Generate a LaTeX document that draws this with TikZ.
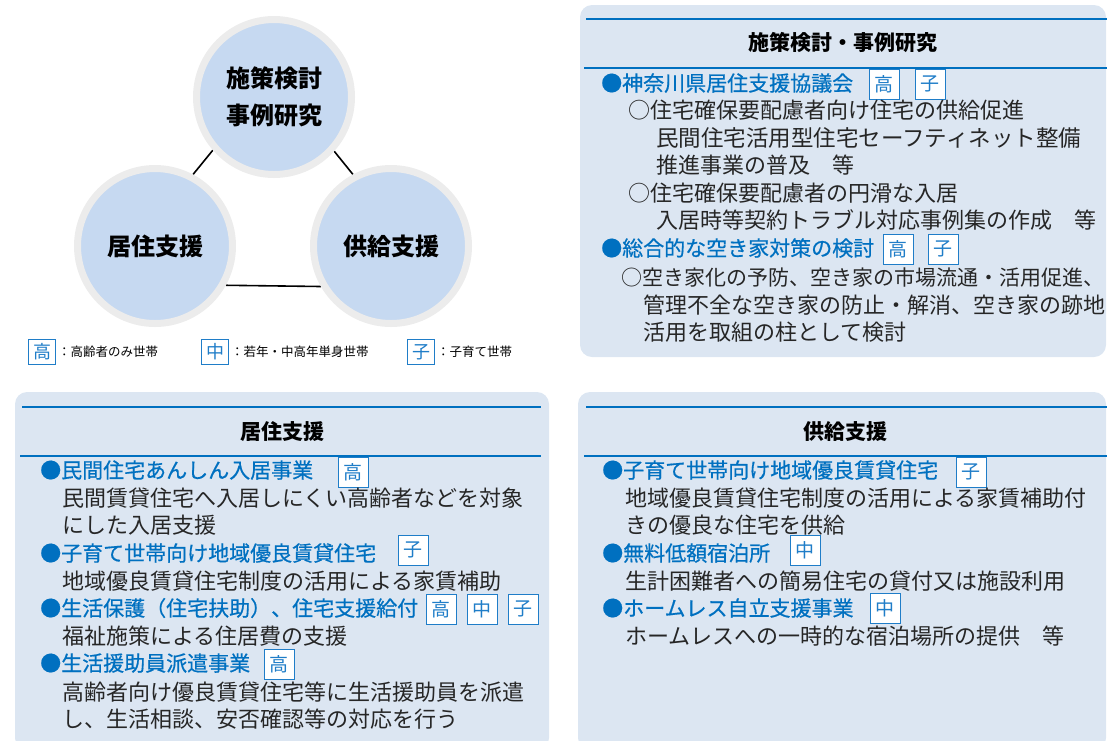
\documentclass[tikz,border=0pt]{standalone}
\usepackage{fontspec}
\setmainfont{Noto Sans CJK JP}
\newfontfamily\jpmedium[FakeBold=0.6]{Noto Sans CJK JP}
\usetikzlibrary{positioning,shadows,backgrounds}
\definecolor{panelfill}{RGB}{220,230,242}
\definecolor{circlefill}{RGB}{198,217,241}
\definecolor{ringgray}{RGB}{236,236,236}
\definecolor{lineblue}{RGB}{0,112,192}
\definecolor{tagblue}{RGB}{31,125,200}
\begin{document}
\begin{tikzpicture}[x=1pt, y=-1pt,
  topic/.style={circle, draw=ringgray, line width=7pt, fill=circlefill, minimum size=155pt, align=center, font=\fontsize{24}{37}\selectfont\bfseries, drop shadow={opacity=0.3, shadow xshift=2pt, shadow yshift=-2pt}},
  link/.style={line width=1.6pt},
  panel/.style={fill=panelfill, rounded corners=12pt},
  blueline/.style={draw=lineblue, line width=1.6pt},
  heading/.style={font=\fontsize{21}{21}\selectfont\bfseries},
  itemhead/.style={anchor=west, inner sep=0pt, text height=17pt, text depth=1pt, text=lineblue, font=\fontsize{21}{21}\selectfont\jpmedium},
  itembody/.style={anchor=west, inner sep=0pt, text height=18pt, text depth=1.2pt, text=black!85, font=\fontsize{22}{22}\selectfont},
  tag/.style={draw=tagblue, fill=white, line width=0.8pt, minimum width=30pt, minimum height=30pt, inner sep=0pt, text=tagblue, font=\fontsize{19}{19}\selectfont},
  legtag/.style={tag, minimum width=27pt, minimum height=25pt, font=\fontsize{18}{18}\selectfont},
  legtext/.style={anchor=west, inner sep=0pt, font=\fontsize{12.5}{12.5}\selectfont}
]
  \useasboundingbox (0,0) rectangle (1107,740);
  \clip (0,0) rectangle (1107,740);

  % Three topics
  \node[topic] (study) at (274,97) {施策検討\\事例研究};
  \node[topic] (living) at (155,246) {居住支援};
  \node[topic] (supply) at (391,246) {供給支援};

  \begin{scope}[on background layer]
    \draw[link] (study.221) -- (living.62);
    \draw[link] (study.-42) -- (supply.118);
    \draw[link] (living.-29) -- (supply.210);
  \end{scope}

  % Legend
  \node[legtag] (legold) at (42,352) {高};
  \node[legtext, right=2pt of legold] (legoldtext) {：高齢者のみ世帯};
  \node[legtag] (legmid) at (215,352) {中};
  \node[legtext, right=2pt of legmid] (legmidtext) {：若年・中高年単身世帯};
  \node[legtag] (legchild) at (421,352) {子};
  \node[legtext, right=2pt of legchild] (legchildtext) {：子育て世帯};

  % Panel: study
  \fill[panel] (580,5) rectangle (1106,357);
  \draw[blueline] (586,19) -- (1107,19);
  \draw[blueline] (584,68) -- (1107,68);
  \node[heading] (studyhead) at (843,43) {施策検討・事例研究};
  \node[itemhead] (council) at (601,83) {●神奈川県居住支援協議会};
  \node[tag] (councilold) at (884,84) {高};
  \node[tag] (councilchild) at (930,84) {子};
  \node[itembody] (councila) at (628,110) {○住宅確保要配慮者向け住宅の供給促進};
  \node[itembody, font=\fontsize{22.5}{22.5}\selectfont] (councilb) at (656,138) {民間住宅活用型住宅セーフティネット整備};
  \node[itembody] (councilc) at (656,165) {推進事業の普及　等};
  \node[itembody] (councild) at (628,193) {○住宅確保要配慮者の円滑な入居};
  \node[itembody] (councile) at (656,220) {入居時等契約トラブル対応事例集の作成　等};
  \node[itemhead] (vacant) at (601,248) {●総合的な空き家対策の検討};
  \node[tag] (vacantold) at (898,249) {高};
  \node[tag] (vacantchild) at (943,249) {子};
  \node[itembody, font=\fontsize{21}{21}\selectfont] (vacanta) at (621,277) {○空き家化の予防、空き家の市場流通・活用促進、};
  \node[itembody] (vacantb) at (643,305) {管理不全な空き家の防止・解消、空き家の跡地};
  \node[itembody] (vacantc) at (643,332) {活用を取組の柱として検討};

  % Panel: living
  \fill[panel] (15,392) rectangle (549,750);
  \draw[blueline] (22,407) -- (541,407);
  \draw[blueline] (20,456) -- (541,456);
  \node[heading] (livinghead) at (282,432) {居住支援};
  \node[itemhead] (anshin) at (40,470) {●民間住宅あんしん入居事業};
  \node[tag] (anshinold) at (353,472) {高};
  \node[itembody] (anshina) at (62,498) {民間賃貸住宅へ入居しにくい高齢者などを対象};
  \node[itembody] (anshinb) at (62,525) {にした入居支援};
  \node[itemhead] (family) at (40,553) {●子育て世帯向け地域優良賃貸住宅};
  \node[tag] (familychild) at (413,550) {子};
  \node[itembody] (familya) at (62,581) {地域優良賃貸住宅制度の活用による家賃補助};
  \node[itemhead] (welfare) at (40,608) {●生活保護（住宅扶助）、住宅支援給付};
  \node[tag] (welfareold) at (441,609) {高};
  \node[tag] (welfaremid) at (482,609) {中};
  \node[tag] (welfarechild) at (523,609) {子};
  \node[itembody] (welfarea) at (62,636) {福祉施策による住居費の支援};
  \node[itemhead] (helper) at (40,663) {●生活援助員派遣事業};
  \node[tag] (helperold) at (279,664) {高};
  \node[itembody] (helpera) at (62,692) {高齢者向け優良賃貸住宅等に生活援助員を派遣};
  \node[itembody] (helperb) at (62,719) {し、生活相談、安否確認等の対応を行う};

  % Panel: supply
  \fill[panel] (578,392) rectangle (1106,750);
  \draw[blueline] (586,407) -- (1107,407);
  \draw[blueline] (584,456) -- (1107,456);
  \node[heading] (supplyhead) at (845,432) {供給支援};
  \node[itemhead] (rental) at (602,470) {●子育て世帯向け地域優良賃貸住宅};
  \node[tag] (rentalchild) at (971,472) {子};
  \node[itembody] (rentala) at (625,498) {地域優良賃貸住宅制度の活用による家賃補助付};
  \node[itembody] (rentalb) at (625,525) {きの優良な住宅を供給};
  \node[itemhead] (lodging) at (602,553) {●無料低額宿泊所};
  \node[tag] (lodgingmid) at (805,550) {中};
  \node[itembody] (lodginga) at (625,581) {生計困難者への簡易住宅の貸付又は施設利用};
  \node[itemhead] (homeless) at (602,608) {●ホームレス自立支援事業};
  \node[tag] (homelessmid) at (885,608) {中};
  \node[itembody] (homelessa) at (625,636) {ホームレスへの一時的な宿泊場所の提供　等};
\end{tikzpicture}
\end{document}
